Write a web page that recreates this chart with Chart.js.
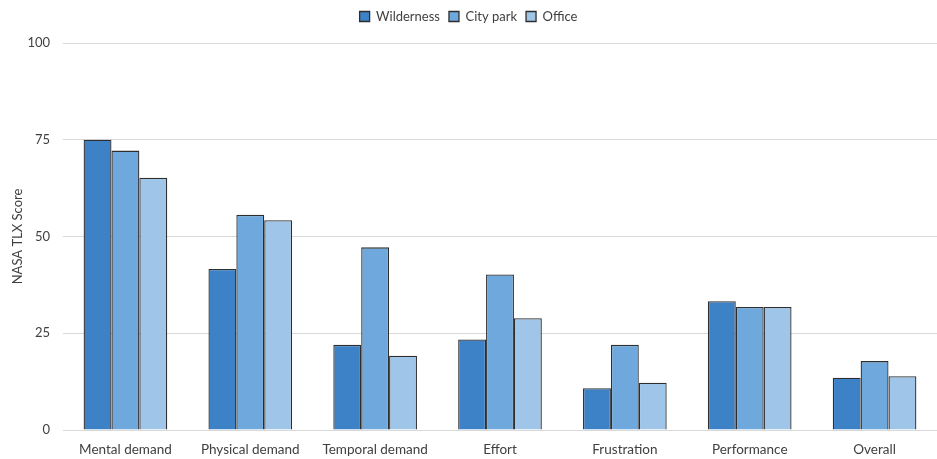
<!DOCTYPE html>
<html>
<head>
<meta charset="utf-8">
<script src="https://cdn.jsdelivr.net/npm/chart.js@4/dist/chart.umd.min.js"></script>
<style>
  html, body { margin: 0; padding: 0; background: #fff; }
  #wrap { width: 937px; height: 459px; position: relative; }
</style>
</head>
<body>
<div id="wrap"><canvas id="tlx_chart"></canvas></div>
<script>
var categories = ['Mental demand', 'Physical demand', 'Temporal demand', 'Effort', 'Frustration', 'Performance', 'Overall'];
var wilderness = [75.0, 41.6, 22.0, 23.4, 10.8, 33.3, 13.5];
var cityPark   = [72.2, 55.6, 47.2, 40.2, 22.0, 31.8, 17.8];
var office     = [65.2, 54.2, 19.2, 28.9, 12.2, 31.8, 13.9];
var yTicks = [0, 25, 50, 75, 100];

Chart.defaults.font.family = 'Lato, "Open Sans", sans-serif';
Chart.defaults.font.size = 13;
Chart.defaults.color = '#404040';

function series(label, data, color) {
  return {
    label: label,
    data: data,
    backgroundColor: color,
    borderColor: '#2e2e2e',
    borderWidth: 1.3,
    borderSkipped: 'bottom'
  };
}

// extra space between the legend and the plot
var legendGap = {
  id: 'legendGap',
  beforeInit: function(chart) {
    var fit = chart.legend.fit;
    chart.legend.fit = function() {
      fit.bind(chart.legend)();
      this.height += 10;
    };
  }
};

var ctx = document.getElementById('tlx_chart').getContext('2d');
var myChart = new Chart(ctx, {
  type: 'bar',
  data: {
    labels: categories,
    datasets: [
      series('Wilderness', wilderness, '#3d82c6'),
      series('City park', cityPark, '#6ea8dc'),
      series('Office', office, '#9fc5e8')
    ]
  },
  plugins: [legendGap],
  options: {
    responsive: true,
    maintainAspectRatio: false,
    animation: false,
    layout: { padding: { left: 0, right: 0, top: 1, bottom: 0 } },
    datasets: {
      bar: { categoryPercentage: 0.67, barPercentage: 1.0 }
    },
    plugins: {
      legend: {
        position: 'top',
        labels: {
          boxWidth: 10,
          boxHeight: 10,
          padding: 9,
          font: { size: 13 }
        }
      },
      tooltip: { enabled: false }
    },
    scales: {
      x: {
        grid: { display: false },
        border: { display: false },
        ticks: { padding: 4, font: { size: 13.5 } },
        afterFit: function(axis) { axis.height = 29; }
      },
      y: {
        min: 0,
        max: 100,
        afterBuildTicks: function(axis) {
          axis.ticks = yTicks.map(function(v) { return { value: v }; });
        },
        afterFit: function(axis) { axis.width = 63; },
        grid: { color: '#d9d9d9', drawTicks: false },
        border: { display: false },
        ticks: { padding: 13, font: { size: 13 } },
        title: {
          display: true,
          text: 'NASA TLX Score',
          font: { size: 13 },
          padding: { top: 10, bottom: 0 }
        }
      }
    }
  }
});
</script>
</body>
</html>
